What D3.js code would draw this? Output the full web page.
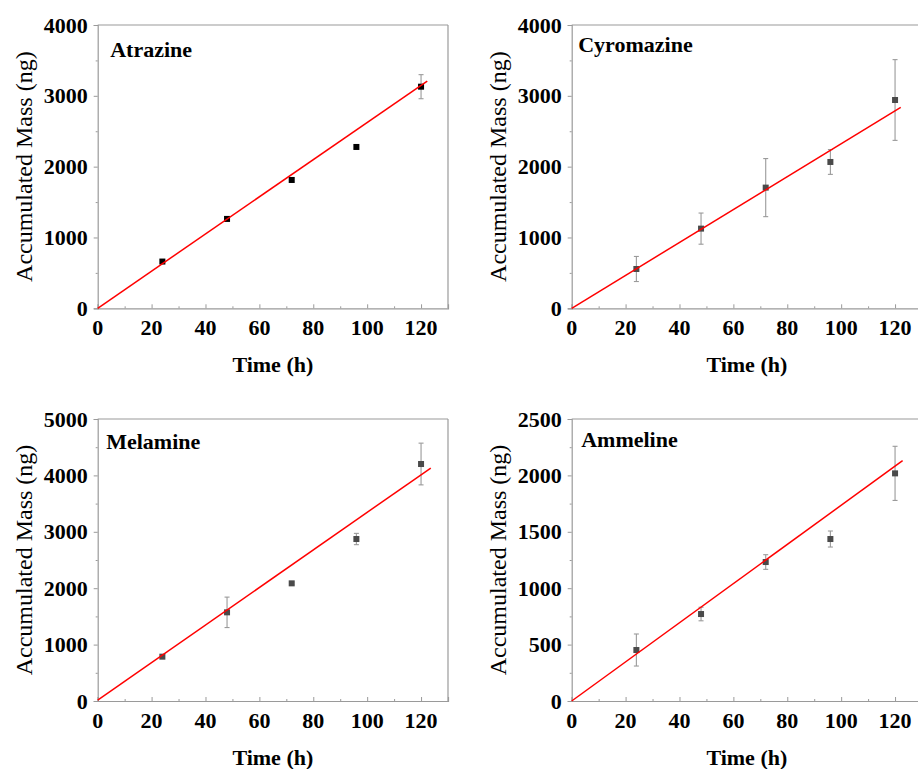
<!DOCTYPE html>
<html>
<head>
<meta charset="utf-8">
<script src="https://cdn.jsdelivr.net/npm/d3@7/dist/d3.min.js"></script>
<style>
  html, body { margin: 0; padding: 0; background: #fff; }
  svg { display: block; }
  text { font-family: "Liberation Serif", "Times New Roman", serif; }
</style>
</head>
<body>
<svg id="chart" width="918" height="769"></svg>
<script>
// ---------------- DATA ----------------
const times = [24, 48, 72, 96, 120];
const compounds = ["Atrazine", "Cyromazine", "Melamine", "Ammeline"];

const atrazineMass   = [660, 1262, 1812, 2278, 3129];
const atrazineErr    = [25, 30, 30, 25, 170];
const cyromazineMass = [555, 1125, 1704, 2066, 2941];
const cyromazineErr  = [177, 220, 410, 175, 570];
const melamineMass   = [786, 1572, 2086, 2872, 4202];
const melamineErr    = [30, 270, 20, 100, 370];
const ammelineMass   = [452, 771, 1232, 1436, 2018];
const ammelineErr    = [142, 60, 65, 71, 240];

// linear fits: [slope, intercept, x end]
const atrazineFit   = [26.24, 0, 122.3];
const cyromazineFit = [23.24, 0, 122.1];
const melamineFit   = [33.3, 15, 123.6];
const ammelineFit   = [17.35, 0, 122.8];

const xTicks = [0, 20, 40, 60, 80, 100, 120];
const yTicksA = [0, 1000, 2000, 3000, 4000];
const yTicksC = [0, 1000, 2000, 3000, 4000];
const yTicksM = [0, 1000, 2000, 3000, 4000, 5000];
const yTicksAm = [0, 500, 1000, 1500, 2000, 2500];

const xTitle = "Time (h)";
const yTitle = "Accumulated Mass (ng)";

// ---------------- LAYOUT ----------------
const panels = [
  { name: compounds[0], mass: atrazineMass, err: atrazineErr, fit: atrazineFit, yTicks: yTicksA,
    left: 97.7, top: 25, bottom: 308.3, markerColor: "#000", label: [12.5, 32] },
  { name: compounds[1], mass: cyromazineMass, err: cyromazineErr, fit: cyromazineFit, yTicks: yTicksC,
    left: 571.7, top: 25, bottom: 308.3, markerColor: "#4a4a4a", label: [6.5, 27.3] },
  { name: compounds[2], mass: melamineMass, err: melamineErr, fit: melamineFit, yTicks: yTicksM,
    left: 97.7, top: 419, bottom: 701, markerColor: "#4a4a4a", label: [8.5, 30] },
  { name: compounds[3], mass: ammelineMass, err: ammelineErr, fit: ammelineFit, yTicks: yTicksAm,
    left: 571.7, top: 419, bottom: 701, markerColor: "#4a4a4a", label: [9.5, 28] }
];
const plotW = 350.3;
const axisColor = "#9a9a9a";

const svg = d3.select("#chart");

panels.forEach(p => {
  const x = d3.scaleLinear().domain([0, 130]).range([p.left, p.left + plotW]);
  const yMax = p.yTicks[p.yTicks.length - 1];
  const y = d3.scaleLinear().domain([0, yMax]).range([p.bottom, p.top]);
  const g = svg.append("g");

  // frame (top and right)
  g.append("line").attr("x1", x(0)).attr("x2", x(130)).attr("y1", y(yMax)).attr("y2", y(yMax))
    .attr("stroke", axisColor).attr("stroke-width", 1.2);
  g.append("line").attr("x1", x(130)).attr("x2", x(130)).attr("y1", y(0)).attr("y2", y(yMax))
    .attr("stroke", axisColor).attr("stroke-width", 1.2);

  // minor ticks
  const xMinor = d3.range(10, 131, 20);
  const step = p.yTicks[1] - p.yTicks[0];
  const yMinor = p.yTicks.slice(0, -1).map(v => v + step / 2);

  // x axis (ticks inward)
  const xAxis = d3.axisBottom(x).tickValues(xTicks).tickSize(-4).tickPadding(0).tickFormat("");
  const gx = g.append("g").attr("transform", `translate(0,${p.bottom})`).call(xAxis);
  gx.select(".domain").attr("stroke", axisColor).attr("stroke-width", 1.2);
  gx.selectAll(".tick line").attr("stroke", axisColor);
  const gxm = g.append("g").attr("transform", `translate(0,${p.bottom})`)
    .call(d3.axisBottom(x).tickValues(xMinor).tickSize(-2).tickFormat(""));
  gxm.select(".domain").remove();
  gxm.selectAll(".tick line").attr("stroke", axisColor);
  g.selectAll(null).data(xTicks).enter().append("text")
    .attr("x", d => x(d)).attr("y", p.bottom + 27)
    .attr("text-anchor", "middle").attr("font-size", 22).attr("font-weight", "bold")
    .attr("fill", "#000").text(d => d);

  // y axis (ticks outward)
  const yAxis = d3.axisLeft(y).tickValues(p.yTicks).tickSize(4).tickFormat("");
  const gy = g.append("g").attr("transform", `translate(${p.left},0)`).call(yAxis);
  gy.select(".domain").attr("stroke", axisColor).attr("stroke-width", 1.2);
  gy.selectAll(".tick line").attr("stroke", axisColor);
  const gym = g.append("g").attr("transform", `translate(${p.left},0)`)
    .call(d3.axisLeft(y).tickValues(yMinor).tickSize(2).tickFormat(""));
  gym.select(".domain").remove();
  gym.selectAll(".tick line").attr("stroke", axisColor);
  g.selectAll(null).data(p.yTicks).enter().append("text")
    .attr("x", p.left - 10).attr("y", d => y(d) + 7.5)
    .attr("text-anchor", "end").attr("font-size", 22).attr("font-weight", "bold")
    .attr("fill", "#000").text(d => d);

  // titles
  g.append("text").attr("x", (x(0) + x(130)) / 2).attr("y", p.bottom + 64)
    .attr("text-anchor", "middle").attr("font-size", 22).attr("font-weight", "bold")
    .text(xTitle);
  g.append("text")
    .attr("transform", `translate(${p.left - 66},${(p.top + p.bottom) / 2}) rotate(-90)`)
    .attr("text-anchor", "middle").attr("font-size", 24)
    .text(yTitle);

  // compound label
  g.append("text").attr("x", p.left + p.label[0]).attr("y", p.top + p.label[1])
    .attr("font-size", 22).attr("font-weight", "bold").text(p.name);

  // error bars
  const pts = times.map((t, i) => ({ t, m: p.mass[i], e: p.err[i] }));
  const eb = g.append("g").attr("stroke", axisColor).attr("stroke-width", 1.1);
  pts.forEach(d => {
    eb.append("line").attr("x1", x(d.t)).attr("x2", x(d.t)).attr("y1", y(d.m - d.e)).attr("y2", y(d.m + d.e));
    eb.append("line").attr("x1", x(d.t) - 2.5).attr("x2", x(d.t) + 2.5).attr("y1", y(d.m - d.e)).attr("y2", y(d.m - d.e));
    eb.append("line").attr("x1", x(d.t) - 2.5).attr("x2", x(d.t) + 2.5).attr("y1", y(d.m + d.e)).attr("y2", y(d.m + d.e));
  });

  // markers
  g.selectAll(null).data(pts).enter().append("rect")
    .attr("x", d => x(d.t) - 3).attr("y", d => y(d.m) - 3)
    .attr("width", 6).attr("height", 6).attr("fill", p.markerColor);

  // fit line
  const [slope, icpt, xEnd] = p.fit;
  const line = d3.line().x(d => x(d)).y(d => y(slope * d + icpt));
  g.append("path").datum([0, xEnd]).attr("d", line)
    .attr("fill", "none").attr("stroke", "#ff0000").attr("stroke-width", 1.5);
});
</script>
</body>
</html>
